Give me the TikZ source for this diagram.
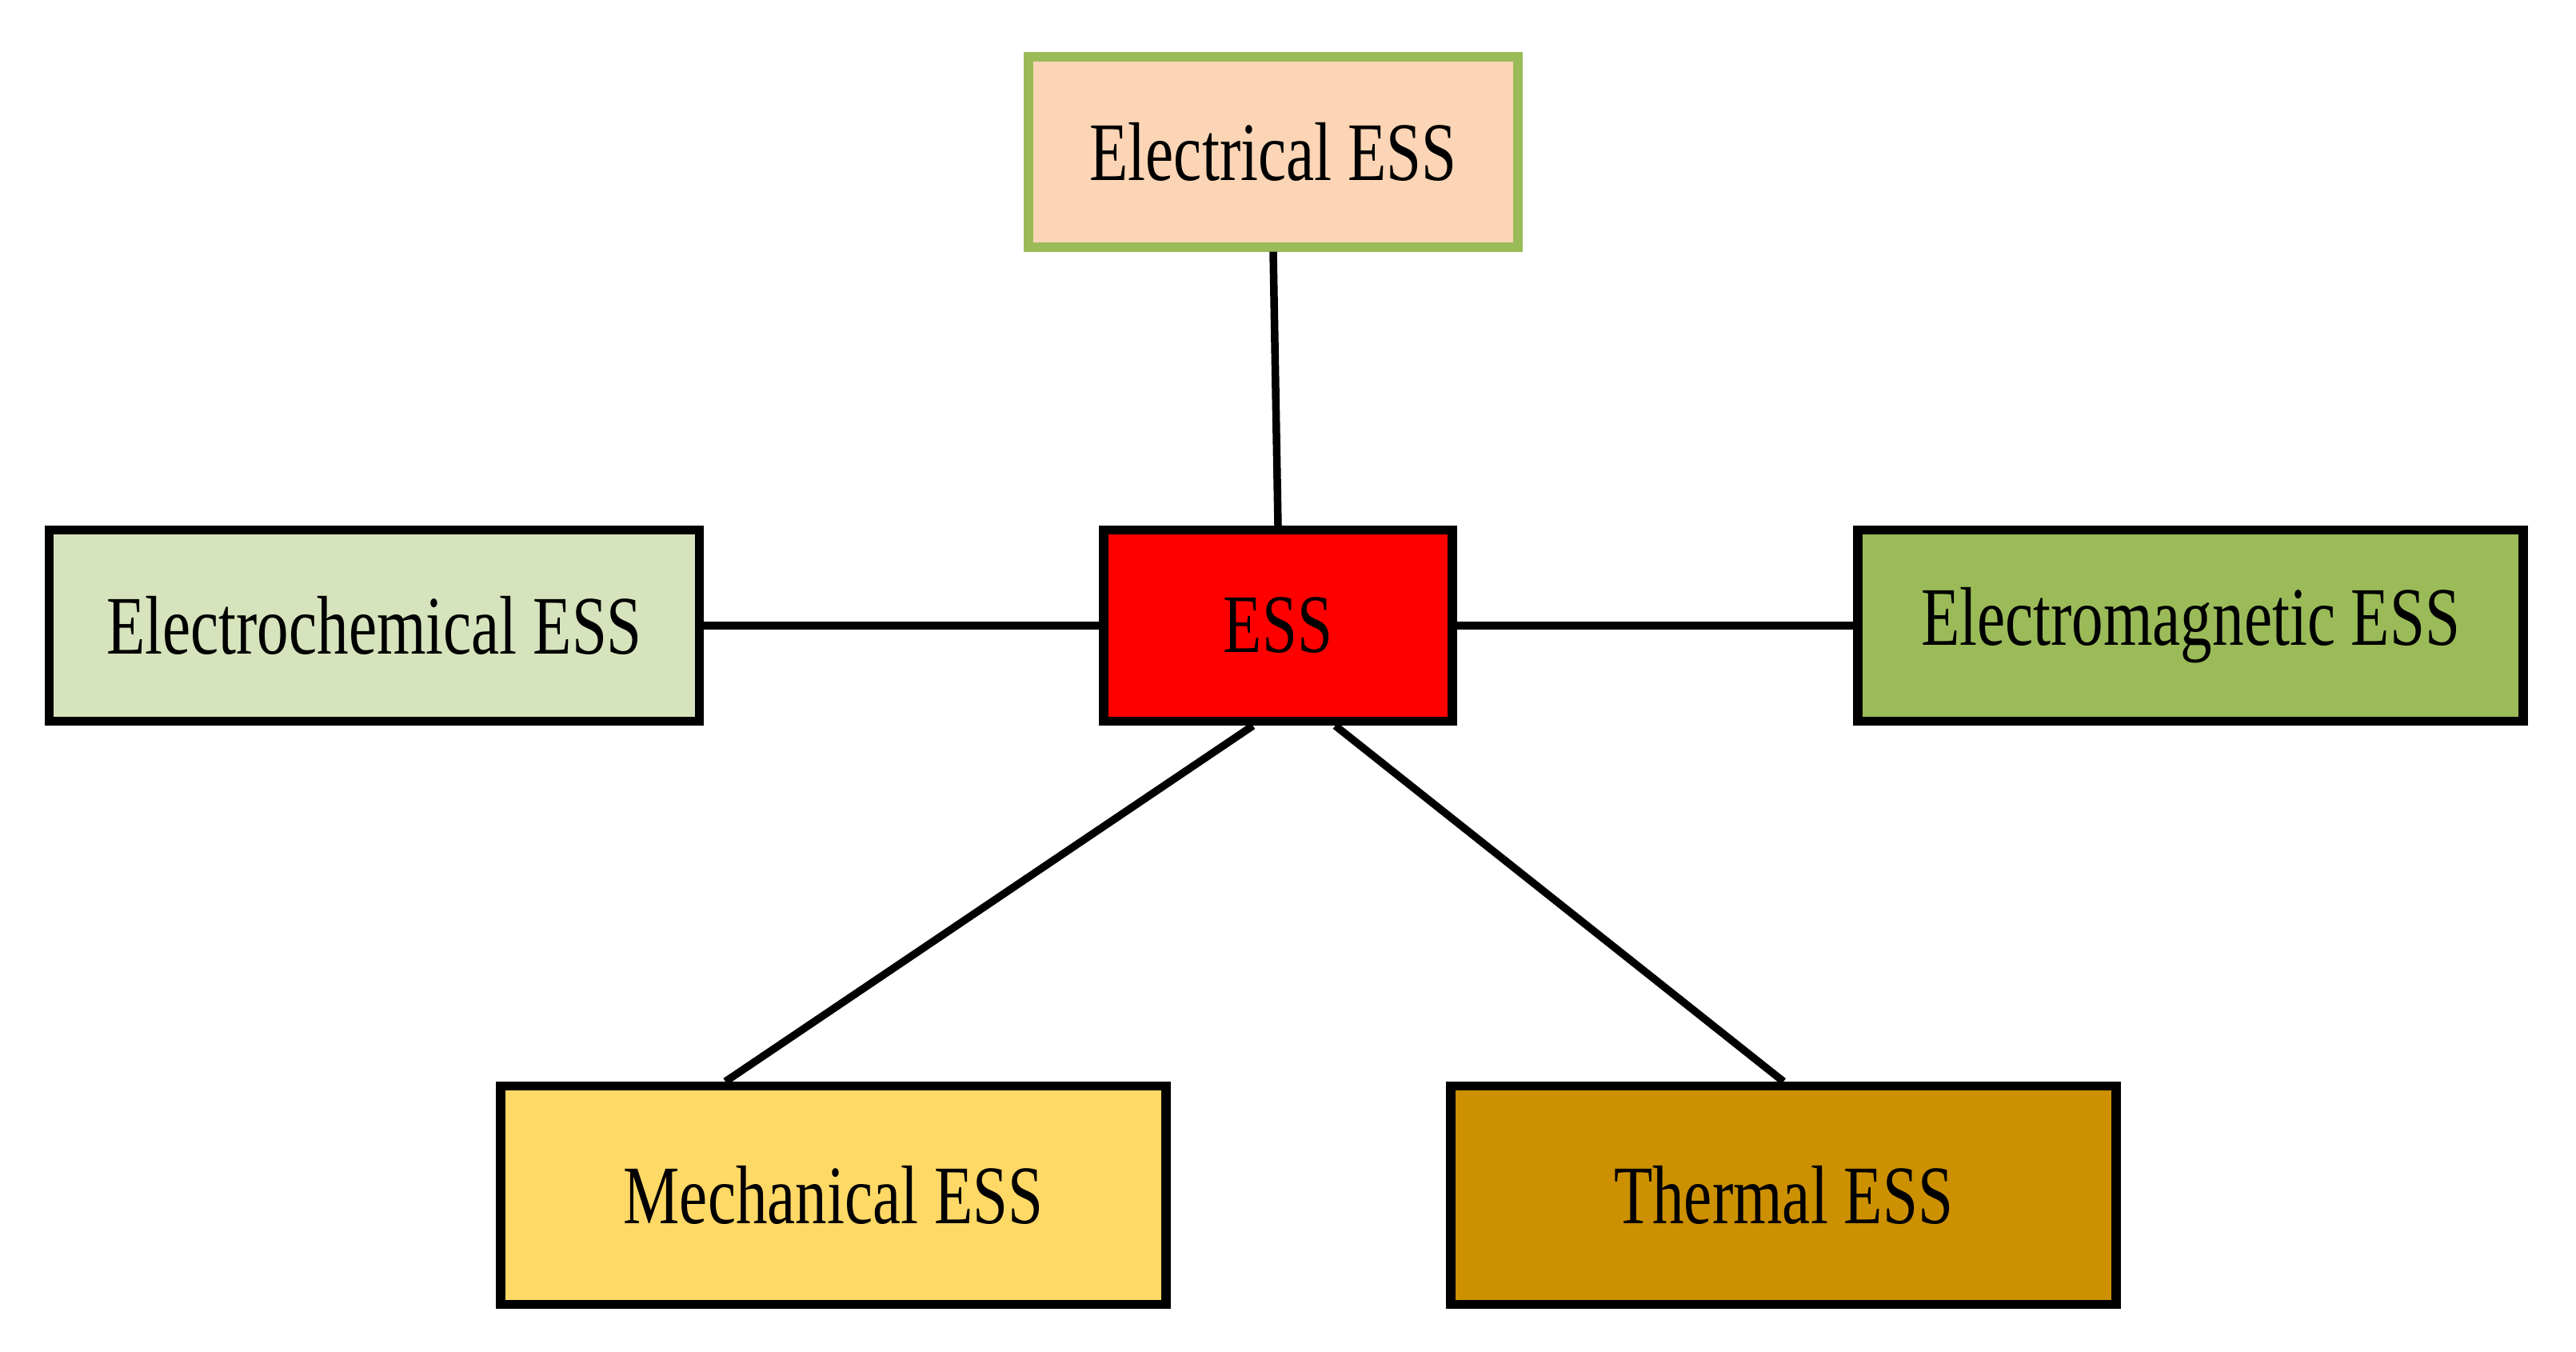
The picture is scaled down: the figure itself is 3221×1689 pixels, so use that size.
\documentclass[tikz,border=0pt]{standalone}
\usepackage{fontspec}
\setmainfont[FakeStretch=0.76]{Liberation Serif}
\usetikzlibrary{calc}
\definecolor{peach}{HTML}{FBD5B5}
\definecolor{leafgreen}{HTML}{9BBB59}
\definecolor{essred}{HTML}{FF0000}
\definecolor{palegreen}{HTML}{D6E3BC}
\definecolor{sunyellow}{HTML}{FFD966}
\definecolor{ochre}{HTML}{CC9000}

\begin{document}
\begin{tikzpicture}[x=0.1mm,y=-0.1mm,
  essbox/.style={draw=black,line width=3.2pt,inner sep=0pt,minimum height=23.9mm,font=\fontsize{29.6}{35}\selectfont},
  link/.style={line width=2.7pt}]
\useasboundingbox (0,0) rectangle (3221,1689);
\node[essbox,fill=essred,minimum width=43.6mm] (ess) at (1598,782) {ESS};
\node[essbox,draw=leafgreen,fill=peach,minimum width=61.2mm,minimum height=23.8mm] (electrical) at (1592,190) {Electrical ESS};
\foreach \id/\x/\y/\w/\h/\col/\txt in {echem/468/782/81.3/23.9/palegreen/Electrochemical ESS,emag/2739/782/83.2/23.9/leafgreen/Electromagnetic ESS,mech/1042/1494/83.2/27.3/sunyellow/Mechanical ESS,therm/2230/1494/83.2/27.3/ochre/Thermal ESS}{
\node[essbox,fill=\col,minimum width=\w mm,minimum height=\h mm] (\id) at (\x,\y) {\txt};}
\draw[link] (electrical.south) -- (ess.north);
\draw[link] (echem.east) -- (ess.west);\draw[link] (ess.east) -- (emag.west);
\draw[link] ($(ess.south west)!0.43!(ess.south east)$) -- ($(mech.north west)!0.34!(mech.north east)$);
\draw[link] ($(ess.south west)!0.66!(ess.south east)$) -- (therm.north);
\end{tikzpicture}
\end{document}
